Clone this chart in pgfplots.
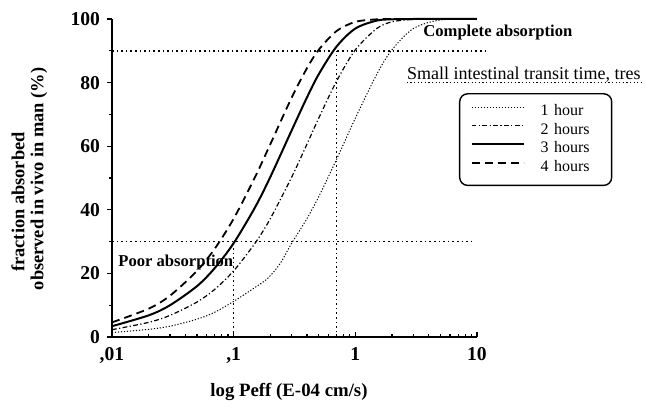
\documentclass[border=0pt]{standalone}
\usepackage{fontspec}
\setmainfont{Liberation Serif}
\usepackage{pgfplots}
\pgfplotsset{compat=1.18}

\tikzset{
  guide/.style={black, line width=0.8pt, dash pattern=on 0.8pt off 1.5pt},
}

\begin{document}
\begin{tikzpicture}

  \begin{axis}[
      at={(0pt,0pt)}, anchor=south west,
      scale only axis, width=182.5pt, height=159pt,
      xmode=log, xmin=0.01, xmax=10, ymin=0, ymax=100,
      axis lines=left,
      axis line style={-, line width=0.8pt},
      xtick={0.01,0.1,1,10},
      xticklabels={{,01},{,1},1,10},
      ytick={0,20,40,60,80,100},
      yticklabels={0,20,40,60,80,100},
      minor ytick={10,30,50,70,90},
      xtick align=inside, ytick align=outside,
      major tick length=2.5pt, minor tick length=1.5pt,
      tick style={black, line width=0.6pt},
      tick label style={font=\bfseries\fontsize{9.8}{11}\selectfont},
      xticklabel style={yshift=-1.5pt},
      clip=false,
      legend style={
        at={(0.9507,0.767)}, anchor=north west,
        draw=black, line width=0.7pt, rounded corners=4pt,
        inner xsep=5.5pt, inner ysep=5pt,
        font=\fontsize{8}{9}\selectfont,
        row sep=1.4pt, column sep=8pt,
        nodes={inner sep=0pt, text height=6pt, text depth=1.9pt, text width=30pt},
      },
      legend cell align=left,
      legend image code/.code={\draw[#1] (0pt,2.2pt) -- (26pt,2.2pt);},
  ]

    % 1 hour
    \addplot[black, line width=0.5pt, dash pattern=on 0.6pt off 0.9pt, smooth]
      coordinates {
        (0.01,1.4) (0.02,2.4) (0.03,3.4) (0.05,5.6) (0.07,7.8) (0.1,11.2)
        (0.15,15.6) (0.19,18.4) (0.24,23.0) (0.3,29.5) (0.4,37.2) (0.5,44.1)
        (0.7,55.8) (1,68.8) (1.5,82.6) (2,90.3) (3,97.0) (5,99.7) (10,100)
      };
    \addlegendentry{1 hour}

    % 2 hours
    \addplot[black, line width=0.6pt, dash pattern=on 2.4pt off 1.2pt on 0.6pt off 1.2pt, smooth]
      coordinates {
        (0.01,2.3) (0.02,4.6) (0.03,6.8) (0.05,11.0) (0.07,15.0) (0.1,20.8)
        (0.15,29.5) (0.2,37.2) (0.3,50.3) (0.4,60.6) (0.5,68.8) (0.7,80.4)
        (1,90.3) (1.5,97.0) (2,99.1) (3,99.9) (5,100) (10,100)
      };
    \addlegendentry{2 hours}

    % 3 hours
    \addplot[black, line width=1pt, smooth]
      coordinates {
        (0.01,3.4) (0.02,6.8) (0.03,10.0) (0.05,16.0) (0.07,21.7) (0.1,29.5)
        (0.15,40.8) (0.2,50.3) (0.3,65.0) (0.4,75.3) (0.5,82.6) (0.7,91.3)
        (1,97.0) (1.5,99.5) (2,99.9) (3,100) (10,100)
      };
    \addlegendentry{3 hours}

    % 4 hours
    \addplot[black, line width=0.9pt, dash pattern=on 4pt off 2.5pt, smooth]
      coordinates {
        (0.01,4.6) (0.02,8.9) (0.03,13.0) (0.05,20.8) (0.07,27.8) (0.1,37.2)
        (0.15,50.3) (0.2,60.6) (0.3,75.3) (0.4,84.5) (0.5,90.3) (0.7,96.2)
        (1,99.1) (1.5,99.9) (2,100) (10,100)
      };
    \addlegendentry{4 hours}

    % guide lines
    \addplot[guide, forget plot] coordinates {(0.01,90) (12.3,90)};
    \addplot[guide, forget plot] coordinates {(0.01,30) (9.7,30)};
    \addplot[guide, forget plot] coordinates {(0.1,0) (0.1,30)};
    \addplot[guide, forget plot] coordinates {(0.7,0) (0.7,90)};

  \end{axis}

  % axis titles
  \node[rotate=90, font=\bfseries\fontsize{9.2}{10}\selectfont]
    at (-47pt,67.5pt) {fraction absorbed};
  \node[rotate=90, font=\bfseries\fontsize{9.2}{10}\selectfont]
    at (-36.5pt,79pt) {observed in vivo in man (\%)};
  \node[font=\bfseries\fontsize{9.4}{11}\selectfont]
    at (88.5pt,-27.5pt) {log Peff (E-04 cm/s)};

  % annotations
  \node[anchor=west, inner sep=0pt, font=\bfseries\fontsize{8.3}{10}\selectfont]
    at (155.5pt,152pt) {Complete absorption};
  \node[anchor=west, inner sep=0pt, font=\bfseries\fontsize{8.3}{10}\selectfont]
    at (3pt,37pt) {Poor absorption};
  \node[anchor=base east, inner sep=0pt, font=\fontsize{9}{10}\selectfont]
    (tt) at (264.5pt,128.5pt) {Small intestinal transit time, tres};
  \draw[black, line width=0.6pt, dash pattern=on 0.6pt off 1.2pt]
    ([yshift=-1.2pt]tt.base west) -- ([yshift=-1.2pt]tt.base east);

  % page frame, same size as the reference
  \path (-56pt,-34pt) rectangle (266.5pt,168.5pt);

\end{tikzpicture}
\end{document}
